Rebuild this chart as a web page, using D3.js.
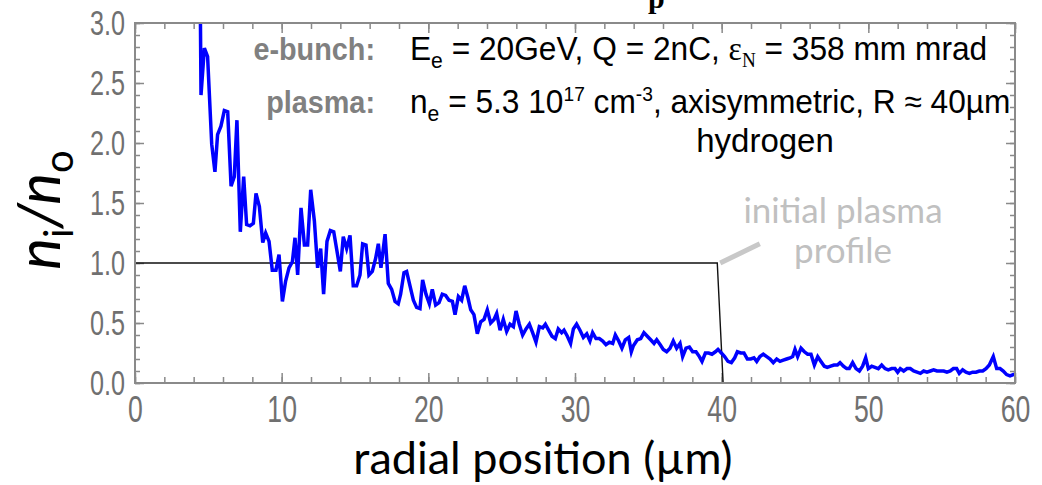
<!DOCTYPE html>
<html>
<head>
<meta charset="utf-8">
<script src="https://cdn.jsdelivr.net/npm/d3@7"></script>
<style>
  body { margin: 0; background: #fff; }
</style>
</head>
<body>
<div id="chart"></div>
<script>
// radial positions (µm) and ion density ratio n_i/n_o
var radial = [4.45, 4.5, 4.73, 4.95, 5.23, 5.45, 5.63, 5.86, 6.09, 6.32, 6.55, 6.77, 6.95, 7.18, 7.41, 7.61, 7.84, 8.07, 8.25, 8.48,
  8.71, 8.91, 9.14, 9.36, 9.61, 9.82, 10.05, 10.27, 10.5, 10.73, 10.91, 11.09, 11.32, 11.55, 11.77, 11.98, 12.23, 12.45, 12.66, 12.86,
  13.09, 13.32, 13.55, 13.77, 14.0, 14.2, 14.43, 14.66, 14.88, 15.11, 15.34, 15.52, 15.75, 15.95, 16.18, 16.41, 16.59, 16.77, 17.05, 17.27,
  17.5, 17.73, 17.95, 18.11, 18.34, 18.52, 18.75, 18.98, 19.2, 19.43, 19.61, 19.84, 20.07, 20.27, 20.5, 20.73, 20.95, 21.18, 21.41, 21.64,
  21.82, 22.05, 22.27, 22.48, 22.7, 22.89, 23.11, 23.34, 23.57, 23.8, 24.02, 24.25, 24.48, 24.66, 24.89, 25.11, 25.34, 25.57, 25.8, 25.98,
  26.2, 26.43, 26.66, 26.89, 27.11, 27.34, 27.57, 27.8, 27.98, 28.2, 28.43, 28.66, 28.86, 29.09, 29.25, 29.48, 29.7, 29.89, 30.11, 30.34,
  30.57, 30.8, 31.02, 31.2, 31.43, 31.66, 31.89, 32.11, 32.34, 32.57, 32.75, 32.98, 33.2, 33.43, 33.66, 33.84, 33.98, 34.25, 34.48, 34.7,
  34.93, 35.16, 35.39, 35.57, 35.8, 36.02, 36.25, 36.48, 36.7, 36.93, 37.16, 37.34, 37.57, 37.8, 38.02, 38.25, 38.48, 38.66, 38.89, 39.11,
  39.34, 39.57, 39.75, 39.98, 40.2, 40.43, 40.66, 40.89, 41.07, 41.3, 41.52, 41.75, 41.98, 42.2, 42.39, 42.61, 42.84, 43.07, 43.3, 43.52,
  43.75, 43.98, 44.2, 44.43, 44.66, 44.84, 45.0, 45.18, 45.41, 45.64, 45.86, 46.09, 46.32, 46.55, 46.77, 47.0, 47.2, 47.43, 47.66, 47.89,
  48.07, 48.3, 48.52, 48.7, 48.93, 49.16, 49.39, 49.61, 49.82, 50.0, 50.23, 50.45, 50.68, 50.91, 51.14, 51.36, 51.59, 51.82, 52.0, 52.18,
  52.41, 52.64, 52.86, 53.09, 53.32, 53.55, 53.77, 54.0, 54.23, 54.45, 54.68, 54.91, 55.14, 55.36, 55.59, 55.8, 56.02, 56.2, 56.43, 56.66,
  56.89, 57.11, 57.34, 57.57, 57.8, 58.02, 58.25, 58.52, 58.75, 58.98, 59.2, 59.43, 59.66, 59.89, 60.0];
var density = [3.2, 2.40, 2.79, 2.72, 1.99, 1.76, 2.07, 2.14, 2.27, 2.26, 1.64, 1.72, 2.19, 1.26, 1.72, 1.32, 1.31, 1.33, 1.58, 1.47,
  1.17, 1.25, 1.18, 0.94, 0.94, 1.07, 0.68, 0.85, 0.96, 1.01, 1.21, 0.90, 1.46, 1.15, 1.15, 1.61, 1.35, 0.96, 1.12, 0.74,
  1.18, 1.27, 1.26, 1.10, 0.93, 1.22, 1.12, 1.23, 0.81, 0.81, 0.90, 1.16, 1.15, 0.90, 0.93, 1.04, 1.16, 0.96, 1.24, 0.83,
  0.78, 0.68, 0.66, 0.74, 0.92, 0.93, 0.81, 0.69, 0.63, 0.62, 0.86, 0.74, 0.66, 0.78, 0.65, 0.67, 0.74, 0.73, 0.69, 0.68,
  0.57, 0.72, 0.69, 0.81, 0.71, 0.61, 0.57, 0.41, 0.51, 0.53, 0.61, 0.50, 0.53, 0.58, 0.44, 0.53, 0.43, 0.49, 0.47, 0.60,
  0.49, 0.40, 0.45, 0.49, 0.42, 0.34, 0.47, 0.46, 0.49, 0.44, 0.39, 0.37, 0.45, 0.42, 0.44, 0.39, 0.33, 0.45, 0.49, 0.44,
  0.38, 0.41, 0.35, 0.42, 0.37, 0.37, 0.35, 0.32, 0.34, 0.33, 0.40, 0.35, 0.29, 0.36, 0.38, 0.26, 0.31, 0.36, 0.37, 0.42,
  0.39, 0.36, 0.33, 0.36, 0.32, 0.28, 0.26, 0.29, 0.35, 0.29, 0.33, 0.22, 0.29, 0.30, 0.26, 0.26, 0.22, 0.18, 0.25, 0.25,
  0.24, 0.26, 0.28, 0.25, 0.22, 0.18, 0.17, 0.21, 0.26, 0.25, 0.25, 0.20, 0.20, 0.21, 0.18, 0.22, 0.24, 0.22, 0.20, 0.17,
  0.20, 0.18, 0.19, 0.20, 0.21, 0.22, 0.28, 0.22, 0.29, 0.26, 0.24, 0.24, 0.15, 0.22, 0.18, 0.14, 0.13, 0.14, 0.15, 0.15,
  0.17, 0.14, 0.12, 0.12, 0.17, 0.12, 0.10, 0.14, 0.21, 0.12, 0.14, 0.13, 0.12, 0.15, 0.12, 0.11, 0.12, 0.12, 0.09, 0.12,
  0.10, 0.12, 0.12, 0.10, 0.09, 0.08, 0.10, 0.09, 0.10, 0.11, 0.10, 0.10, 0.10, 0.09, 0.10, 0.12, 0.12, 0.08, 0.11, 0.09,
  0.08, 0.09, 0.09, 0.10, 0.10, 0.12, 0.15, 0.22, 0.12, 0.12, 0.10, 0.07, 0.06, 0.07, 0.07];

// initial step profile of the plasma column
var profileX = [0, 39.7, 40.1, 60];
var profileY = [1, 1, 0, 0];

var xMajor = [0, 10, 20, 30, 40, 50, 60];
var yMajor = [0, 0.5, 1, 1.5, 2, 2.5, 3];

// set dimensions
var width = 1042, height = 485;
var plotLeft = 135, plotRight = 1015, plotTop = 23, plotBottom = 383;
var squeeze = 0.72; // condensed look of the tick numbers

var svg = d3.select("#chart").append("svg")
  .attr("width", width)
  .attr("height", height);

var x = d3.scaleLinear().domain([0, 60]).range([plotLeft, plotRight]);
var y = d3.scaleLinear().domain([0, 3]).range([plotBottom, plotTop]);

svg.append("clipPath").attr("id", "plotclip")
  .append("rect")
  .attr("x", plotLeft).attr("y", plotTop)
  .attr("width", plotRight - plotLeft).attr("height", plotBottom - plotTop);

// cut-off title at the very top
svg.append("text")
  .attr("x", 648).attr("y", 8)
  .attr("font-family", "'Liberation Serif', serif")
  .attr("font-weight", "bold")
  .attr("font-size", 30)
  .text("p");

// frame ticks: minor + major on all four sides, pointing inward
function frameTicks(axisFn, translate, values, size) {
  var scale = (axisFn === d3.axisTop || axisFn === d3.axisBottom) ? x : y;
  var g = svg.append("g")
    .attr("transform", translate)
    .call(axisFn(scale).tickValues(values).tickSize(size).tickFormat(""));
  g.select(".domain").remove();
  g.selectAll(".tick line").attr("stroke", "#8a8a8a").attr("stroke-width", 1.5);
}

var xMinor = d3.range(0, 61, 2);
var yMinor = d3.range(0, 31).map(function(d) { return d / 10; });

frameTicks(d3.axisBottom, "translate(0," + plotBottom + ")", xMinor, -6);
frameTicks(d3.axisTop, "translate(0," + plotTop + ")", xMinor, -6);
frameTicks(d3.axisLeft, "translate(" + plotLeft + ",0)", yMinor, -5);
frameTicks(d3.axisRight, "translate(" + plotRight + ",0)", yMinor, -5);
frameTicks(d3.axisTop, "translate(0," + plotTop + ")", xMajor, -10);
frameTicks(d3.axisRight, "translate(" + plotRight + ",0)", yMajor, -9);

var xAxis = svg.append("g")
  .attr("transform", "translate(0," + plotBottom + ")")
  .call(d3.axisBottom(x).tickValues(xMajor).tickSize(-10).tickPadding(13).tickFormat(d3.format(".0f")));
xAxis.select(".domain").remove();
xAxis.selectAll(".tick line").attr("stroke", "#8a8a8a").attr("stroke-width", 1.5);
xAxis.selectAll("text")
  .attr("font-family", "'Liberation Sans', Arial, sans-serif").attr("font-size", 37).attr("fill", "#707070")
  .attr("transform", "scale(" + squeeze + ",1)");

var yAxis = svg.append("g")
  .attr("transform", "translate(" + plotLeft + ",0)")
  .call(d3.axisLeft(y).tickValues(yMajor).tickSize(-9).tickPadding(10 / squeeze).tickFormat(d3.format(".1f")));
yAxis.select(".domain").remove();
yAxis.selectAll(".tick line").attr("stroke", "#8a8a8a").attr("stroke-width", 1.5);
yAxis.selectAll("text")
  .attr("font-family", "'Liberation Sans', Arial, sans-serif").attr("font-size", 35).attr("fill", "#707070")
  .attr("transform", "scale(" + squeeze + ",1)");

// initial plasma profile
var line = d3.line().x(function(d) { return x(d[0]); }).y(function(d) { return y(d[1]); });
svg.append("path")
  .datum(d3.zip(profileX, profileY))
  .attr("d", line)
  .attr("fill", "none")
  .attr("stroke", "#111")
  .attr("stroke-width", 1.4);

// simulated ion density
svg.append("path")
  .datum(d3.zip(radial, density))
  .attr("clip-path", "url(#plotclip)")
  .attr("d", line)
  .attr("fill", "none")
  .attr("stroke", "#0000ff")
  .attr("stroke-width", 3.5)
  .attr("stroke-linejoin", "miter");

// frame
svg.append("rect")
  .attr("x", plotLeft).attr("y", plotTop)
  .attr("width", plotRight - plotLeft).attr("height", plotBottom - plotTop)
  .attr("fill", "none")
  .attr("stroke", "#8a8a8a")
  .attr("stroke-width", 2);

// annotation pointer + label
svg.append("line")
  .attr("x1", x(39.9)).attr("y1", y(1))
  .attr("x2", x(42.6)).attr("y2", y(1.16))
  .attr("stroke", "#c8c8c8")
  .attr("stroke-width", 5);

var note = svg.append("text")
  .attr("font-family", "Lato, 'Open Sans', sans-serif")
  .attr("font-size", 35)
  .attr("fill", "#c0c0c0")
  .attr("text-anchor", "middle");
note.append("tspan").attr("x", 843).attr("y", 223).text("initial plasma");
note.append("tspan").attr("x", 843).attr("y", 263).text("profile");

// parameter text
var paramFont = "'Liberation Sans', Arial, sans-serif";
function paramLine(label, yPos) {
  svg.append("text")
    .attr("x", 375).attr("y", yPos)
    .attr("text-anchor", "end")
    .attr("font-family", paramFont)
    .attr("font-weight", "bold")
    .attr("font-size", 32)
    .attr("fill", "#808080")
    .attr("transform", "translate(375,0) scale(0.9,1) translate(-375,0)")
    .text(label);
  return svg.append("text")
    .attr("x", 410).attr("y", yPos)
    .attr("font-family", paramFont)
    .attr("font-size", 33)
    .attr("fill", "#000")
    .attr("transform", "translate(410,0) scale(0.96,1) translate(-410,0)");
}

var l1 = paramLine("e-bunch:", 60);
l1.append("tspan").text("E");
l1.append("tspan").attr("dy", 8).attr("font-size", 22).text("e");
l1.append("tspan").attr("dy", -8).text(" = 20GeV, Q = 2nC, ");
l1.append("tspan").attr("font-family", "'Liberation Serif', serif").text("ε");
l1.append("tspan").attr("font-family", "'Liberation Serif', serif").attr("dy", 7).attr("font-size", 20).text("N");
l1.append("tspan").attr("dy", -7).text(" = 358 mm mrad");

var l2 = paramLine("plasma:", 113);
l2.append("tspan").text("n");
l2.append("tspan").attr("dy", 8).attr("font-size", 22).text("e");
l2.append("tspan").attr("dy", -8).text(" = 5.3 10");
l2.append("tspan").attr("dy", -12).attr("font-size", 20).text("17");
l2.append("tspan").attr("dy", 12).text(" cm");
l2.append("tspan").attr("dy", -12).attr("font-size", 20).text("-3");
l2.append("tspan").attr("dy", 12).text(", axisymmetric, R ≈ 40µm");

svg.append("text")
  .attr("x", 765).attr("y", 152)
  .attr("text-anchor", "middle")
  .attr("font-family", paramFont)
  .attr("font-size", 33)
  .attr("fill", "#000")
  .text("hydrogen");

// axis titles
svg.append("text")
  .attr("x", 543).attr("y", 474)
  .attr("text-anchor", "middle")
  .attr("font-family", "Lato, 'Open Sans', sans-serif")
  .attr("font-size", 45)
  .attr("fill", "#000")
  .text("radial position (µm)");

var yl = svg.append("text")
  .attr("transform", "translate(60,210) rotate(-90)")
  .attr("text-anchor", "middle")
  .attr("font-family", "Lato, 'Open Sans', sans-serif")
  .attr("font-size", 60)
  .attr("fill", "#000");
yl.append("tspan").attr("font-style", "italic").text("n");
yl.append("tspan").attr("dy", 13).attr("font-size", 40).text("i");
yl.append("tspan").attr("dy", -13).attr("font-style", "italic").text("/");
yl.append("tspan").attr("font-style", "italic").text("n");
yl.append("tspan").attr("dy", 13).attr("font-size", 40).text("o");
</script>
</body>
</html>
